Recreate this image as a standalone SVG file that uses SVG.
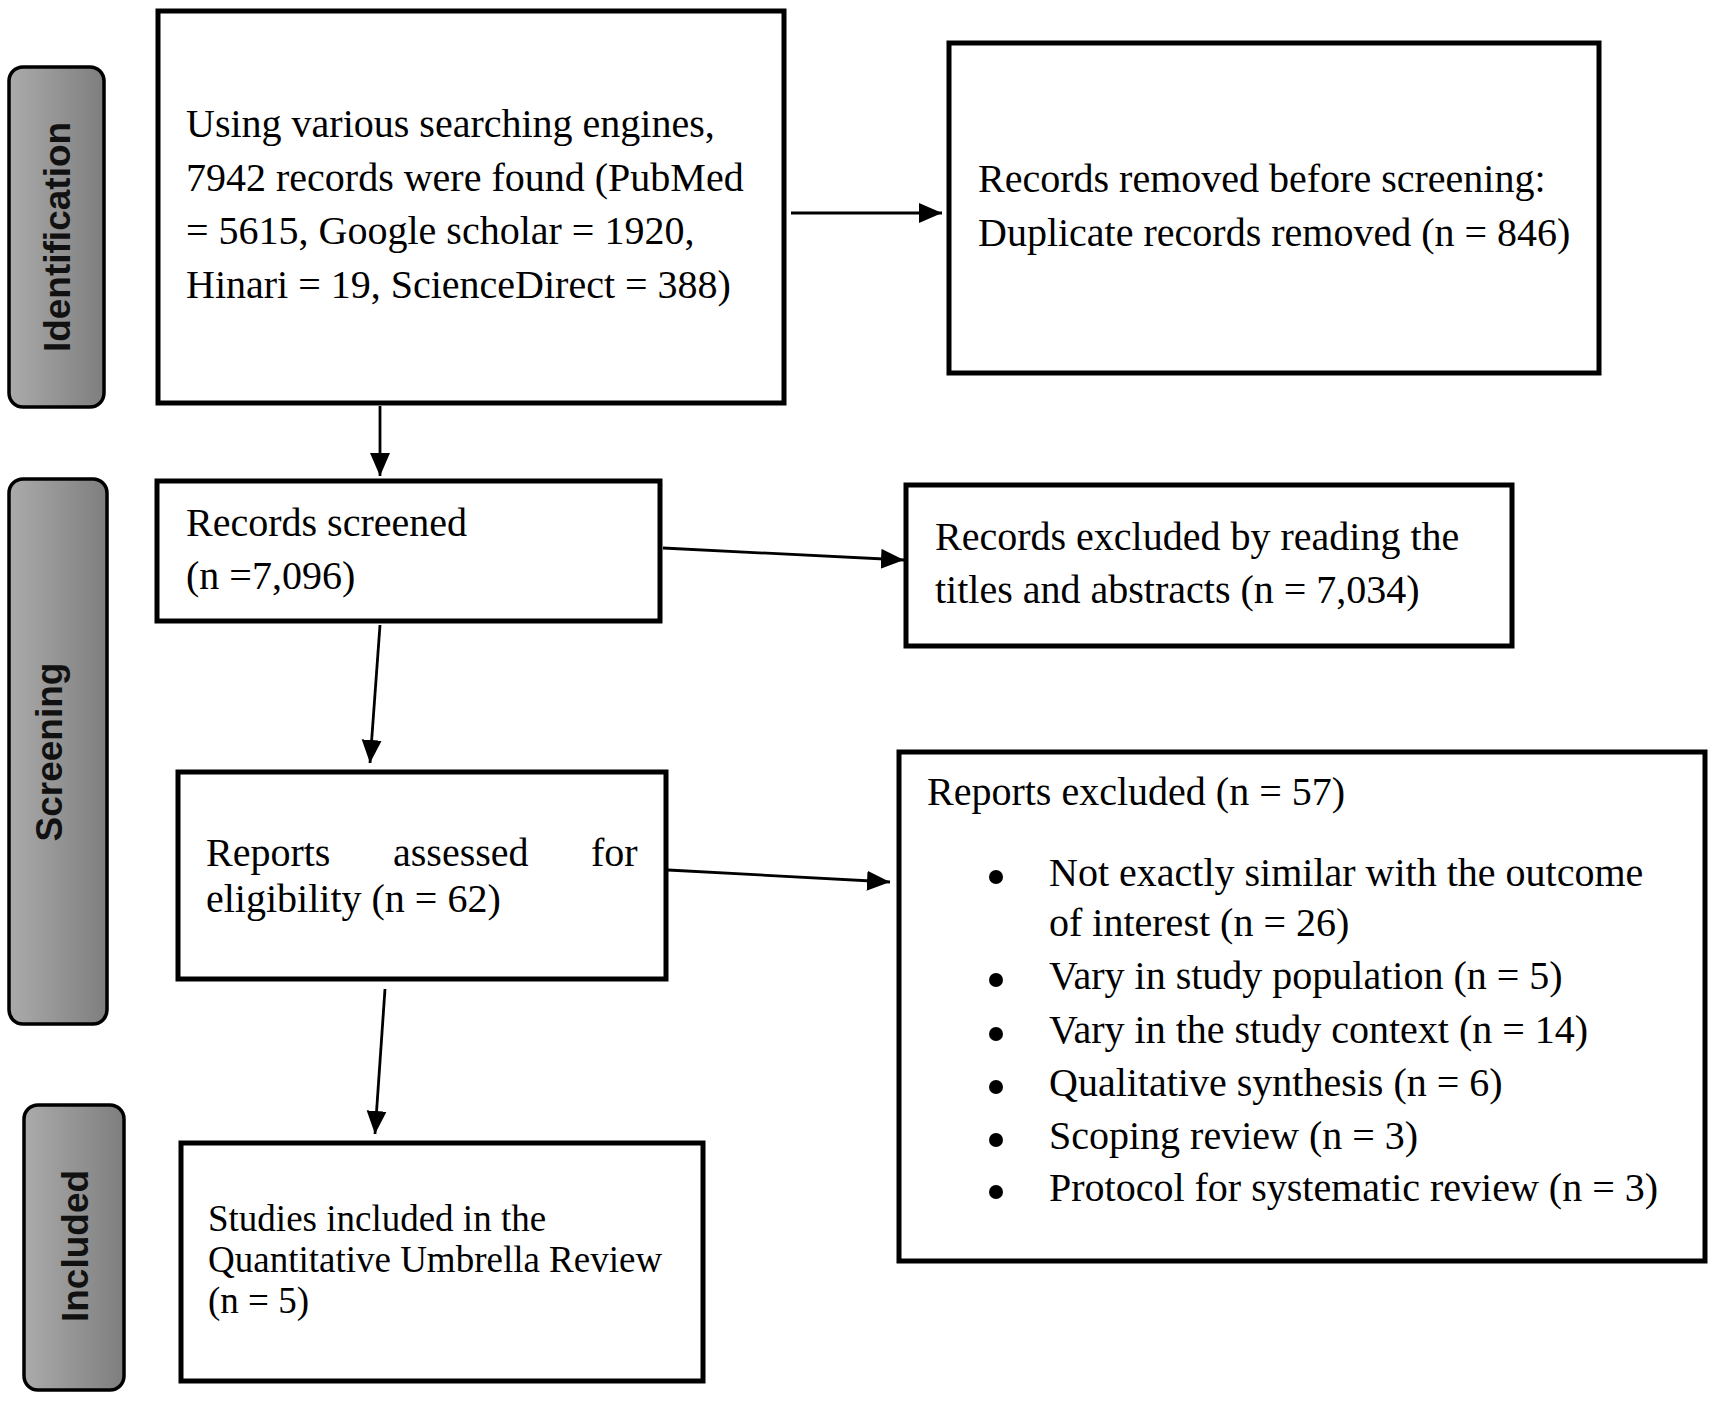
<svg xmlns="http://www.w3.org/2000/svg" width="1713" height="1403" viewBox="0 0 1713 1403">
<defs>
<linearGradient id="lg" x1="0" y1="0" x2="1" y2="0">
<stop offset="0" stop-color="#ababab"/>
<stop offset="1" stop-color="#7e7e7e"/>
</linearGradient>
<marker id="ah" markerUnits="userSpaceOnUse" markerWidth="25" markerHeight="21" refX="23" refY="10" orient="auto">
<path d="M0,0 L23,10 L0,20 Z" fill="#000"/>
</marker>
</defs>
<style>
.box{fill:#fff;stroke:#000;stroke-width:5}
.lab{fill:url(#lg);stroke:#000;stroke-width:3.5}
.lt{font-family:"Liberation Sans",Arial,sans-serif;font-weight:bold;font-size:37px;fill:#111;text-anchor:middle}
.t{font-family:"Liberation Serif","Times New Roman",serif;font-size:40px;fill:#000}
.t2{font-family:"Liberation Serif","Times New Roman",serif;font-size:37px;fill:#000}
.c{stroke:#000;stroke-width:2.8;fill:none;marker-end:url(#ah)}
</style>
<rect width="1713" height="1403" fill="#fff"/>
<g id="label-identification">
<rect class="lab" x="9" y="67" width="95" height="340" rx="14"/>
<text class="lt" transform="translate(70,237) rotate(-90)">Identification</text>
</g>
<g id="label-screening">
<rect class="lab" x="9" y="479" width="98" height="545" rx="14"/>
<text class="lt" transform="translate(62,752) rotate(-90)">Screening</text>
</g>
<g id="label-included">
<rect class="lab" x="24" y="1105" width="100" height="285" rx="14"/>
<text class="lt" transform="translate(88,1246) rotate(-90)">Included</text>
</g>
<g id="node-search">
<rect class="box" x="158" y="11" width="626" height="392"/>
<text class="t"><tspan x="186" y="137">Using various searching engines,</tspan><tspan x="186" y="191">7942 records were found (PubMed</tspan><tspan x="186" y="244">= 5615, Google scholar = 1920,</tspan><tspan x="186" y="298">Hinari = 19, ScienceDirect = 388)</tspan></text>
</g>
<g id="node-removed">
<rect class="box" x="949" y="43" width="650" height="330"/>
<text class="t"><tspan x="978" y="192">Records removed before screening:</tspan><tspan x="978" y="246">Duplicate records removed (n = 846)</tspan></text>
</g>
<g id="node-screened">
<rect class="box" x="157" y="481" width="503" height="140"/>
<text class="t"><tspan x="186" y="536">Records screened</tspan><tspan x="186" y="589">(n =7,096)</tspan></text>
</g>
<g id="node-excluded-titles">
<rect class="box" x="906" y="485" width="606" height="161"/>
<text class="t"><tspan x="935" y="550">Records excluded by reading the</tspan><tspan x="935" y="603">titles and abstracts (n = 7,034)</tspan></text>
</g>
<g id="node-assessed">
<rect class="box" x="178" y="772" width="488" height="207"/>
<text class="t"><tspan x="206" y="866">Reports</tspan><tspan x="393" y="866">assessed</tspan><tspan x="591" y="866">for</tspan><tspan x="206" y="912">eligibility (n = 62)</tspan></text>
</g>
<g id="node-reports-excluded">
<rect class="box" x="899" y="752" width="806" height="509"/>
<text class="t"><tspan x="927" y="805">Reports excluded (n = 57)</tspan></text>
<g fill="#000">
<circle cx="996" cy="877" r="7"/>
<circle cx="996" cy="980" r="7"/>
<circle cx="996" cy="1034" r="7"/>
<circle cx="996" cy="1087" r="7"/>
<circle cx="996" cy="1140" r="7"/>
<circle cx="996" cy="1192" r="7"/>
</g>
<text class="t"><tspan x="1049" y="886">Not exactly similar with the outcome</tspan><tspan x="1049" y="936">of interest (n = 26)</tspan><tspan x="1049" y="989">Vary in study population (n = 5)</tspan><tspan x="1049" y="1043">Vary in the study context (n = 14)</tspan><tspan x="1049" y="1096">Qualitative synthesis (n = 6)</tspan><tspan x="1049" y="1149">Scoping review (n = 3)</tspan><tspan x="1049" y="1201">Protocol for systematic review (n = 3)</tspan></text>
</g>
<g id="node-included">
<rect class="box" x="181" y="1143" width="522" height="238"/>
<text class="t2"><tspan x="208" y="1231">Studies included in the</tspan><tspan x="208" y="1272">Quantitative Umbrella Review</tspan><tspan x="208" y="1313">(n = 5)</tspan></text>
</g>
<g id="connectors">
<line class="c" x1="791" y1="213" x2="942" y2="213"/>
<line class="c" x1="380" y1="406" x2="380" y2="476"/>
<line class="c" x1="663" y1="548" x2="904" y2="560"/>
<line class="c" x1="380" y1="625" x2="370" y2="763"/>
<line class="c" x1="668" y1="870" x2="890" y2="882"/>
<line class="c" x1="385" y1="989" x2="375" y2="1134"/>
</g>
</svg>
